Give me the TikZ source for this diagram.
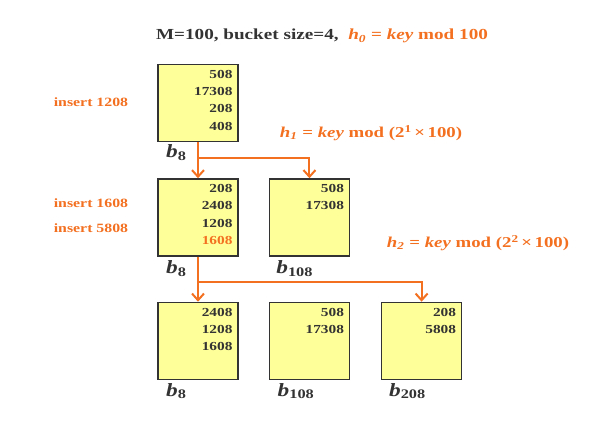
\documentclass[tikz,border=0pt]{standalone}
\usepackage{fontspec}
\setmainfont[FakeStretch=1.25]{Liberation Serif}
\definecolor{hashorange}{RGB}{243,112,33}
\definecolor{bucketfill}{RGB}{255,255,153}
\definecolor{inkgray}{RGB}{51,51,51}
\usetikzlibrary{arrows.meta,positioning}
\newcommand{\bk}[1]{{\bfseries\itshape b}\textsubscript{\bfseries #1}}
\newcommand{\hk}[1]{{\itshape h}\textsubscript{\itshape #1}}

\begin{document}
\begin{tikzpicture}[
  x=0.75pt,y=-0.75pt,
  bucket/.style={draw=inkgray,line width=1.1pt,fill=bucketfill,minimum width=60pt,minimum height=57.75pt,inner sep=0pt},
  keys/.style={align=right,font=\fontsize{9.2}{13}\selectfont\bfseries,text=inkgray,inner sep=0pt},
  blab/.style={font=\fontsize{14}{14}\selectfont,text=inkgray,inner sep=0pt},
  note/.style={font=\fontsize{9.5}{12}\selectfont\bfseries,text=hashorange},
  hash/.style={font=\fontsize{11.3}{13}\selectfont\bfseries,text=hashorange},
  split/.style={-{Straight Barb[length=5pt,width=9pt]},hashorange,line width=1.5pt}
]
  \useasboundingbox (0,0) rectangle (601,431);

  \node[font=\fontsize{11.5}{14}\selectfont\bfseries,text=inkgray] (title) at (322,36)
    {M=100, bucket size=4,\ \ \textcolor{hashorange}{\hk{0} = {\itshape key} mod 100}};

  % buckets
  \node[bucket] (b1) at (198,103) {};
  \node[bucket,below=27pt of b1] (b2) {};
  \node[bucket,right=22.5pt of b2] (c2) {};
  \node[bucket,below=33.75pt of b2] (b3) {};
  \node[bucket,right=22.5pt of b3] (c3) {};
  \node[bucket,right=23pt of c3] (d3) {};

  % keys
  \node[keys,below left=4.5pt and 4.5pt of b1.north east] (k1) {508\\17308\\208\\408};
  \node[keys,below left=4.5pt and 4.5pt of b2.north east] (k2) {208\\2408\\1208\\\textcolor{hashorange}{1608}};
  \node[keys,below left=4.5pt and 4.5pt of c2.north east] (l2) {508\\17308};
  \node[keys,below left=4.5pt and 4.5pt of b3.north east] (k3) {2408\\1208\\1608};
  \node[keys,below left=4.5pt and 4.5pt of c3.north east] (l3) {508\\17308};
  \node[keys,below left=4.5pt and 4.5pt of d3.north east] (m3) {208\\5808};

  % bucket names
  \node[blab,below right=1.5pt and 6.5pt of b1.south west] (n1) {\bk{8}};
  \node[blab,below right=2.5pt and 6.5pt of b2.south west] (n2) {\bk{8}};
  \node[blab,below right=2.5pt and 5.5pt of c2.south west] (o2) {\bk{108}};
  \node[blab,below right=2pt and 6.5pt of b3.south west] (n3) {\bk{8}};
  \node[blab,below right=2pt and 6.5pt of c3.south west] (o3) {\bk{108}};
  \node[blab,below right=2pt and 6pt of d3.south west] (p3) {\bk{208}};

  % inserts and hash functions
  \node[note] (ins1) at (91,102) {insert 1208};
  \node[note] (ins2) at (91,203) {insert 1608};
  \node[note] (ins3) at (91,228) {insert 5808};
  \node[hash] (h1) at (371,133) {\hk{1} = {\itshape key} mod (2\textsuperscript{1}\,×\,100)};
  \node[hash] (h2) at (478,243) {\hk{2} = {\itshape key} mod (2\textsuperscript{2}\,×\,100)};

  % splits
  \coordinate (j1) at (198,158);
  \coordinate (j2) at (198,282);
  \draw[split] (b1) -- (b2);
  \draw[split] (j1) -| (c2.north);
  \draw[split] (b2) -- (b3);
  \draw[split] (j2) -| (d3.north);
\end{tikzpicture}
\end{document}
